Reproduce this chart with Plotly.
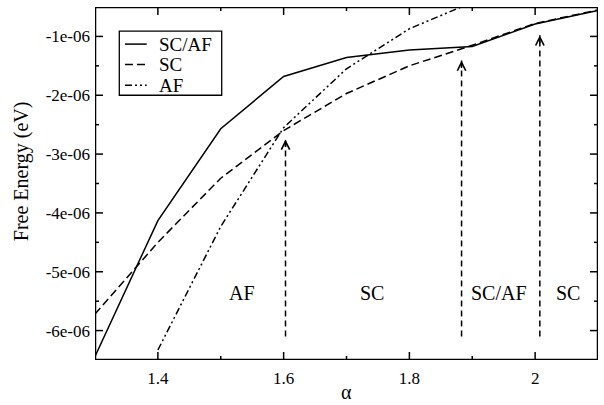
import plotly.graph_objects as go

# ---- data ----
alpha = [1.3, 1.4, 1.5, 1.6, 1.7, 1.8, 1.9, 2.0, 2.1]
sc_af = [-6.44e-6, -4.13e-6, -2.57e-6, -1.68e-6, -1.36e-6, -1.23e-6, -1.17e-6, -0.79e-6, -0.56e-6]
sc = [-5.72e-6, -4.50e-6, -3.41e-6, -2.60e-6, -1.97e-6, -1.50e-6, -1.15e-6, -0.78e-6, -0.55e-6]
alpha_af = [1.4, 1.5, 1.6, 1.7, 1.8, 1.9]
af = [-6.33e-6, -4.23e-6, -2.55e-6, -1.55e-6, -0.87e-6, -0.42e-6]

arrow_x = [1.603, 1.883, 2.0075]
arrow_tip = [-2.75e-6, -1.41e-6, -0.98e-6]
arrow_base = -6.10e-6

region_labels = ["AF", "SC", "SC/AF", "SC"]
region_x = [1.533, 1.741, 1.943, 2.052]
region_y = -5.36e-6

series_names = ["SC/AF", "SC", "AF"]

xtick_vals = [1.4, 1.6, 1.8, 2.0]
xtick_text = ["1.4", "1.6", "1.8", "2"]
xminor_vals = [1.5, 1.7, 1.9]
ytick_vals = [-1e-6, -2e-6, -3e-6, -4e-6, -5e-6, -6e-6]
ytick_text = ["-1e-06", "-2e-06", "-3e-06", "-4e-06", "-5e-06", "-6e-06"]
yminor_vals = [-1.5e-6, -2.5e-6, -3.5e-6, -4.5e-6, -5.5e-6]

X_RANGE = [1.3, 2.1]
Y_RANGE = [-6.5e-6, -0.5e-6]

FONT = "Liberation Serif"
DASHES = ["solid", "8px,4px", "7px,3px,2px,3px,2px,3px"]

W, H = 604, 405
ML, MR, MT, MB = 95, 6, 7, 45
PW, PH = W - ML - MR, H - MT - MB

fig = go.Figure()
fig.add_trace(go.Scatter(x=alpha, y=sc_af, mode="lines", name=series_names[0],
                         line=dict(color="black", width=1.5, dash=DASHES[0])))
fig.add_trace(go.Scatter(x=alpha, y=sc, mode="lines", name=series_names[1],
                         line=dict(color="black", width=1.5, dash=DASHES[1])))
fig.add_trace(go.Scatter(x=alpha_af, y=af, mode="lines", name=series_names[2],
                         line=dict(color="black", width=1.5, dash=DASHES[2])))

for xa, tip in zip(arrow_x, arrow_tip):
    fig.add_trace(go.Scatter(x=[xa, xa], y=[arrow_base, tip], mode="lines",
                             showlegend=False, hoverinfo="skip",
                             line=dict(color="black", width=1.5, dash="6px,4px")))
    fig.add_annotation(x=xa, y=tip, ax=0, ay=9, showarrow=True, arrowhead=5,
                       arrowsize=1.1, arrowwidth=1.5, arrowcolor="black", text="")

for lab, xl in zip(region_labels, region_x):
    fig.add_annotation(x=xl, y=region_y, text=lab, showarrow=False,
                       font=dict(family=FONT, size=20, color="black"))

# ---- inside ticks on all four sides, drawn as a line trace from the tick arrays ----
dx_per_px = (X_RANGE[1] - X_RANGE[0]) / PW
dy_per_px = (Y_RANGE[1] - Y_RANGE[0]) / PH
tx, ty = [], []
for vals, ln in ((xtick_vals, 8), (xminor_vals, 4)):
    for v in vals:
        tx += [v, v, None, v, v, None]
        ty += [Y_RANGE[0], Y_RANGE[0] + ln * dy_per_px, None,
               Y_RANGE[1], Y_RANGE[1] - ln * dy_per_px, None]
for vals, ln in ((ytick_vals, 8), (yminor_vals, 4)):
    for v in vals:
        ty += [v, v, None, v, v, None]
        tx += [X_RANGE[0], X_RANGE[0] + ln * dx_per_px, None,
               X_RANGE[1], X_RANGE[1] - ln * dx_per_px, None]
fig.add_trace(go.Scatter(x=tx, y=ty, mode="lines", showlegend=False, hoverinfo="skip",
                         cliponaxis=False, line=dict(color="black", width=1.5)))
# frame
fig.add_trace(go.Scatter(x=[X_RANGE[0], X_RANGE[1], X_RANGE[1], X_RANGE[0], X_RANGE[0]],
                         y=[Y_RANGE[0], Y_RANGE[0], Y_RANGE[1], Y_RANGE[1], Y_RANGE[0]],
                         mode="lines", showlegend=False, hoverinfo="skip",
                         cliponaxis=False, line=dict(color="black", width=2.5)))

# manual legend (box, line samples, labels) in paper coordinates
lx0, lx1, ly0, ly1 = 0.0483, 0.2519, 0.750, 0.9318
fig.add_shape(type="rect", xref="paper", yref="paper", x0=lx0, x1=lx1, y0=ly0, y1=ly1,
              line=dict(color="black", width=1.3), fillcolor="white", layer="above")
row_y = [0.8949, 0.8372, 0.7784]
for name, dash, ry in zip(series_names, DASHES, row_y):
    fig.add_shape(type="line", xref="paper", yref="paper", x0=0.0596, x1=0.1028,
                  y0=ry, y1=ry, line=dict(color="black", width=1.5, dash=dash),
                  layer="above")
    fig.add_annotation(xref="paper", yref="paper", x=0.1227, y=ry, xanchor="left",
                       yanchor="middle", text=name, showarrow=False,
                       font=dict(family=FONT, size=19, color="black"))

# axis titles
fig.add_annotation(xref="paper", yref="paper", x=0.5, y=-0.09, yanchor="middle",
                   text="α", showarrow=False,
                   font=dict(family=FONT, size=20, color="black"))
fig.add_annotation(xref="paper", yref="paper", x=-0.147, y=0.535, xanchor="center",
                   yanchor="middle", textangle=-90, text="Free Energy (eV)",
                   showarrow=False, font=dict(family=FONT, size=20, color="black"))

fig.update_xaxes(range=X_RANGE, tickmode="array", tickvals=xtick_vals,
                 ticktext=xtick_text, showgrid=False, zeroline=False,
                 showline=False, ticks="", ticklabelstandoff=6,
                 tickfont=dict(family=FONT, size=17, color="black"))
fig.update_yaxes(range=Y_RANGE, tickmode="array", tickvals=ytick_vals,
                 ticktext=ytick_text, showgrid=False, zeroline=False,
                 showline=False, ticks="", ticklabelstandoff=4,
                 tickfont=dict(family=FONT, size=17, color="black"))

fig.update_layout(
    width=W, height=H,
    margin=dict(l=ML, r=MR, t=MT, b=MB),
    paper_bgcolor="white", plot_bgcolor="white",
    font=dict(family=FONT, color="black"),
    showlegend=False,
)

fig.write_html("out.html", config={"displayModeBar": False},
               post_script="document.body.style.margin='0px';document.body.style.overflow='hidden';")
